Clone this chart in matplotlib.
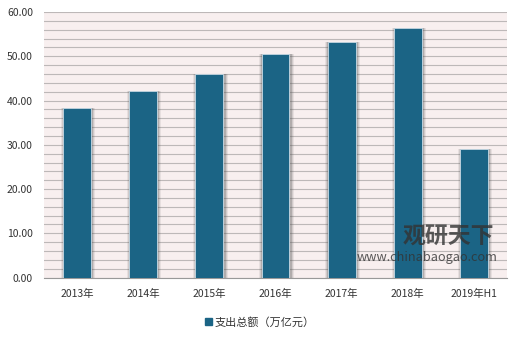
import numpy as np
import matplotlib
matplotlib.use("Agg")
import matplotlib.pyplot as plt
from matplotlib.patches import Patch

plt.rcParams['font.family'] = ['Noto Sans CJK SC', 'DejaVu Sans']

years = ["2013年", "2014年", "2015年", "2016年", "2017年", "2018年", "2019年H1"]
spending = [38.4, 42.2, 46.1, 50.4, 53.3, 56.4, 29.1]
series_name = "支出总额（万亿元）"

bar_color = "#1b6485"

fig = plt.figure(figsize=(5.2, 3.37), dpi=100)
ax = fig.add_axes([44/520, 1 - 277.6/337, (507-44)/520, (277.6-12)/337])
ax.set_facecolor("#f8efef")

x = np.arange(len(years))
w = 0.42

# soft shadow behind the bars
for k, a in [(0.10, 0.10), (0.07, 0.15), (0.04, 0.25)]:
    ax.bar(x + 0.015, np.array(spending) + k * 6, width=w + k, bottom=-k * 6,
           color="#555555", alpha=a, zorder=2, linewidth=0)

ax.bar(x, spending, width=w, color=bar_color, edgecolor="#c9dbe6",
       linewidth=0.6, zorder=3)

ax.set_xlim(-0.5, len(years) - 0.5)
ax.set_ylim(0, 60)
ax.set_yticks(np.arange(0, 61, 10))
ax.set_yticklabels([f"{v:.2f}" for v in np.arange(0, 61, 10)])
ax.set_yticks(np.arange(0, 61, 2), minor=True)
ax.yaxis.grid(True, which="both", color="#bdb8b8", linewidth=0.8, zorder=1)
ax.set_axisbelow(True)
ax.set_xticks(x)
ax.set_xticklabels(years)
ax.tick_params(axis="both", which="both", length=0, labelsize=7.5, colors="#333333")
ax.tick_params(axis="x", pad=8)
ax.tick_params(axis="y", pad=8)
for s in ["top", "right", "left"]:
    ax.spines[s].set_visible(False)
ax.spines["bottom"].set_color("#999999")

# watermark
fig.text(0.863, 0.297, "观研天下", fontsize=16.5, color="#333333", alpha=0.8,
         ha="center", va="center", fontweight="bold")
fig.text(0.822, 0.237, "www.chinabaogao.com", fontsize=9.2, color="#333333",
         alpha=0.8, ha="center", va="center")

fig.legend(handles=[Patch(color=bar_color, label=series_name)],
           loc="center", bbox_to_anchor=(0.5, 1 - 322/337), frameon=False,
           fontsize=8, handlelength=0.6, handleheight=0.6, handletextpad=0.3,
           labelcolor="#333333")

fig.savefig("out.png", dpi=100)
